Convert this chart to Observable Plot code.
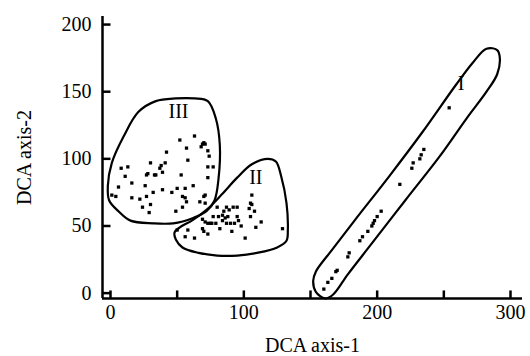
<!DOCTYPE html>
<html>
<head>
<meta charset="utf-8">
<script src="https://cdn.jsdelivr.net/npm/d3@7"></script>
<script src="https://cdn.jsdelivr.net/npm/@observablehq/plot@0.6"></script>
<style>
  html, body { margin: 0; padding: 0; background: #fff; }
</style>
</head>
<body>
<div id="chart"></div>
<script>
// ---- data (DCA axis-1, DCA axis-2) ----
const groupI = [[160,3],[163,8],[166,11],[169,16],[170,17],[178,27],[179,30],[187,39],[189,42],[193,46],[196,50],[197,52],[198,54],[200,57],[203,61],[217,81],[226,93],[227,97],[232,100],[233,103],[235,107],[254,138]];
const groupII = [[50,47],[56,42],[58,47],[63,41],[69,55],[69,48],[70,46],[71,53],[73,44],[73,52],[75,52],[76,52],[77,57],[79,52],[80,64],[81,57],[82,48],[84,58],[84,54],[85,61],[86,56],[87,52],[87,64],[88,57],[89,62],[90,52],[91,46],[92,64],[93,52],[95,64],[95,57],[96,54],[98,50],[101,41],[104,63],[105,67],[105,57],[106,73],[106,66],[108,61],[109,49],[113,53],[129,48]];
const groupIII = [[1,73],[4,72],[6,79],[8,93],[11,87],[13,94],[16,82],[16,71],[22,70],[24,64],[26,80],[27,72],[27,88],[28,89],[29,60],[30,97],[30,66],[32,75],[33,88],[34,88],[37,93],[38,95],[39,77],[39,90],[41,97],[42,105],[46,75],[49,61],[50,78],[52,114],[53,88],[54,72],[54,64],[56,71],[56,78],[57,108],[57,68],[58,99],[62,80],[63,117],[67,68],[68,109],[69,111],[70,72],[70,112],[71,111],[73,106],[74,102],[73,94],[73,86],[77,94],[71,67],[71,73]];

// cluster outlines (hand-drawn envelopes)
const hullI = [[282,182],[290,181],[292,175],[290,163],[282,150],[267,130],[247,102],[221,69],[196,37],[178,14],[167,-1],[161,-4],[154,1],[152,9],[154,16],[166,32],[183,54],[209,87],[234,120],[259,155],[272,172]];
const hullII = [[118,100],[124,98],[128,87],[132,67],[133,47],[132,39],[125,34],[110,30],[95,28],[80,28],[66,30],[54,34],[49,40],[48,45],[52,49],[61,54],[72,62],[83,73],[95,86],[106,96]];
const hullIII = [[34,143],[49,145],[63,145],[73,143],[79,130],[82,110],[81,85],[78,69],[72,61],[62,56],[47,52],[32,52],[15,54],[6,61],[-1,69],[-2,80],[1,97],[10,117],[21,135]];

const clusterLabels = ["I", "II", "III"];
const labelX = [263, 109, 51];
const labelY = [156, 86, 135];

const xDomain = [-6, 309];
const yDomain = [-4, 206];
const xTicks = [0, 50, 100, 150, 200, 250, 300];
const yTicks = [0, 50, 100, 150, 200];
const xTitle = "DCA axis-1";
const yTitle = "DCA axis-2";

const pts = [...groupI, ...groupII, ...groupIII].map(([x, y]) => ({x, y}));
const hulls = [
  ...hullI.map(([x, y]) => ({x, y, g: "I"})),
  ...hullII.map(([x, y]) => ({x, y, g: "II"})),
  ...hullIII.map(([x, y]) => ({x, y, g: "III"}))
];
const labels = clusterLabels.map((t, i) => ({t, x: labelX[i], y: labelY[i]}));
const xTickData = xTicks.map(v => ({v}));
const yTickData = yTicks.map(v => ({v}));

// inward tick length, in axis units
const xTickLen = 6;   // vertical extent of x ticks (y units)
const yTickLen = 6;   // horizontal extent of y ticks (x units)

const chart = Plot.plot({
  width: 530,
  height: 356,
  marginLeft: 102,
  marginRight: 8,
  marginTop: 16,
  marginBottom: 58,
  style: {fontFamily: "'Liberation Serif', 'Times New Roman', serif", fontSize: "20px", color: "#000", background: "#fff"},
  x: {domain: xDomain},
  y: {domain: yDomain},
  marks: [
    Plot.line(hulls, {x: "x", y: "y", z: "g", curve: "catmull-rom-closed", stroke: "#000", strokeWidth: 2.2}),
    Plot.dot(pts, {x: "x", y: "y", symbol: "square", r: 1.85, fill: "#000"}),
    Plot.text(labels, {x: "x", y: "y", text: "t", fontSize: 20, fill: "#000"}),
    Plot.ruleX([xDomain[0]], {stroke: "#000", strokeWidth: 2.5}),
    Plot.ruleY([yDomain[0]], {stroke: "#000", strokeWidth: 2.5}),
    // inward tick marks
    Plot.link(xTickData, {x1: "v", x2: "v", y1: () => yDomain[0], y2: () => yDomain[0] + xTickLen, stroke: "#000", strokeWidth: 2.5}),
    Plot.link(yTickData, {y1: "v", y2: "v", x1: () => xDomain[0], x2: () => xDomain[0] + yTickLen, stroke: "#000", strokeWidth: 2.5}),
    // tick labels and titles
    Plot.axisX({ticks: xTicks, tickSize: 0, tickPadding: 6,
      tickFormat: d => (d % 100 === 0 ? String(d) : ""),
      label: xTitle, labelAnchor: "center", labelArrow: "none", labelOffset: 53}),
    Plot.axisY({ticks: yTicks, tickSize: 0, tickPadding: 11,
      tickFormat: d => String(d),
      label: yTitle, labelAnchor: "center", labelArrow: "none", labelOffset: 86})
  ]
});
document.getElementById("chart").appendChild(chart);
</script>
</body>
</html>
